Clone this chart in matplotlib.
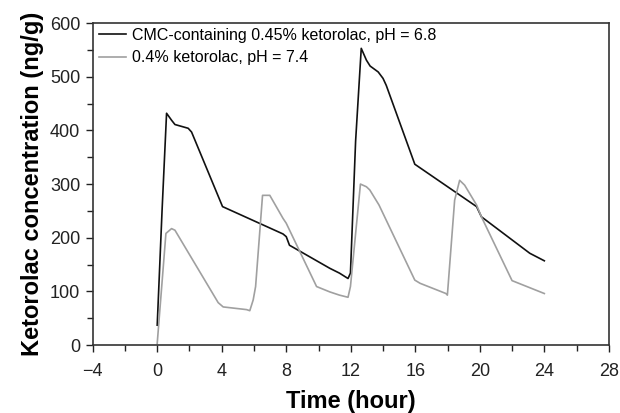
import matplotlib
matplotlib.use("Agg")
import matplotlib.pyplot as plt
from matplotlib.ticker import MultipleLocator

plt.rcParams['font.family'] = ['Liberation Sans', 'DejaVu Sans']

# CMC-containing 0.45% ketorolac, pH = 6.8
t_cmc = [0.0, 0.3, 0.58, 0.89, 1.1, 1.92, 2.13, 4.05, 7.8, 8.0, 8.2, 10.7, 11.3, 11.83, 11.98,
         12.3, 12.65, 12.97, 13.2, 13.7, 14.0, 14.2, 15.97, 19.8, 20.1, 23.1, 24.0]
c_cmc = [37, 250, 432, 419, 411, 404, 397, 258, 207, 202, 186, 143, 134, 124, 134,
         380, 553, 531, 520, 509, 497, 484, 337, 258, 239, 171, 157]

# 0.4% ketorolac, pH = 7.4
t_ket = [0.0, 0.54, 0.89, 1.1, 3.78, 4.09, 5.54, 5.74, 5.95, 6.1, 6.53, 6.98, 7.8, 8.0, 9.88,
         10.7, 11.3, 11.83, 11.98, 12.6, 12.97, 13.18, 13.75, 15.97, 16.3, 17.9, 17.99,
         18.44, 18.75, 19.06, 19.8, 20.1, 22.0, 24.0]
c_ket = [3, 208, 217, 214, 79, 71, 66, 64, 84, 109, 279, 279, 236, 227, 109,
         99, 93, 89, 109, 300, 295, 289, 261, 121, 115, 96, 93,
         270, 307, 298, 261, 239, 120, 96]

x_ticks = [-4, 0, 4, 8, 12, 16, 20, 24, 28]
y_ticks = [0, 100, 200, 300, 400, 500, 600]

fig = plt.figure(figsize=(6.2, 4.13), dpi=100)
ax = fig.add_axes([0.1495, 0.1646, 0.8325, 0.7794])

ax.plot(t_cmc, c_cmc, color='#111111', lw=1.2, label='CMC-containing 0.45% ketorolac, pH = 6.8')
ax.plot(t_ket, c_ket, color='#a0a0a0', lw=1.2, label='0.4% ketorolac, pH = 7.4')

ax.set_xlim(-4, 28)
ax.set_ylim(0, 600)
ax.set_xticks(x_ticks)
ax.set_yticks(y_ticks)
ax.set_xticklabels(['\u22124' if v < 0 else str(v) for v in x_ticks])
ax.xaxis.set_minor_locator(MultipleLocator(2))
ax.yaxis.set_minor_locator(MultipleLocator(50))
ax.tick_params(which='major', direction='out', length=5, width=1, labelsize=13, colors='#222222')
ax.tick_params(which='minor', direction='out', length=4, width=1, colors='#222222')
ax.tick_params(axis='x', which='major', pad=8)
ax.tick_params(axis='y', which='major', pad=4)
for s in ax.spines.values():
    s.set_color('#333333')
    s.set_linewidth(1.2)

ax.set_xlabel('Time (hour)', fontsize=17, fontweight='bold', labelpad=7)
ax.set_ylabel('Ketorolac concentration (ng/g)', fontsize=17, fontweight='bold', labelpad=4)

leg = ax.legend(loc='upper left', bbox_to_anchor=(0.012, 0.985), frameon=False, fontsize=11.5,
                handlelength=1.7, handletextpad=0.4, borderpad=0, borderaxespad=0,
                labelspacing=0.45)

fig.savefig('out.png', dpi=100)
